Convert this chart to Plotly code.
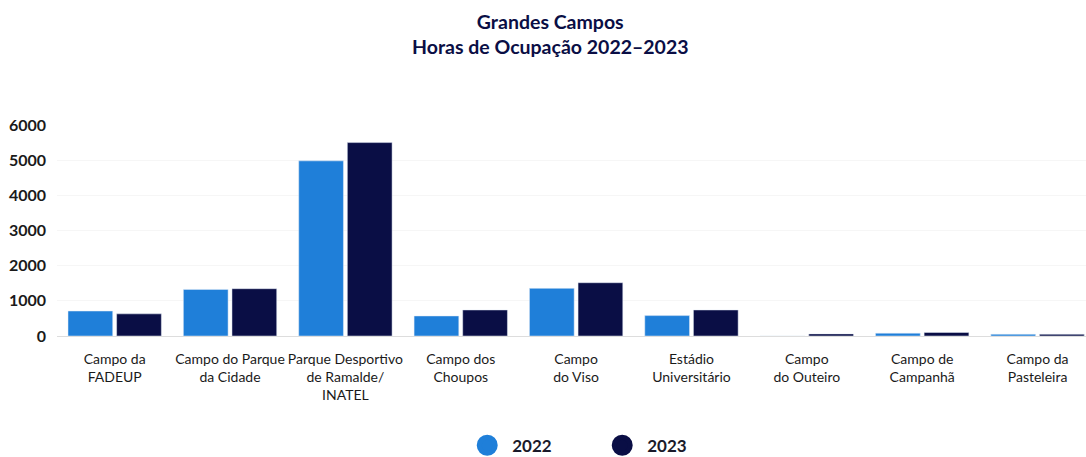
import plotly.graph_objects as go

categories = [
    "Campo da<br>FADEUP",
    "Campo do Parque<br>da Cidade",
    "Parque Desportivo<br>de Ramalde/<br>INATEL",
    "Campo dos<br>Choupos",
    "Campo<br>do Viso",
    "Estádio<br>Universitário",
    "Campo<br>do Outeiro",
    "Campo de<br>Campanhã",
    "Campo da<br>Pasteleira",
]
hours_2022 = [710, 1325, 4980, 570, 1355, 580, 0, 80, 50]
hours_2023 = [630, 1345, 5500, 740, 1515, 740, 60, 100, 50]
y_ticks = [0, 1000, 2000, 3000, 4000, 5000, 6000]

color_2022 = "#1f7fd9"
color_2023 = "#0a0e45"
font_family = "Lato, 'Open Sans', sans-serif"

fig = go.Figure()
fig.add_trace(go.Bar(x=categories, y=hours_2022, name="2022", marker_color=color_2022,
                     showlegend=False))
fig.add_trace(go.Bar(x=categories, y=hours_2023, name="2023", marker_color=color_2023,
                     showlegend=False))
# legend entries with circle markers
fig.add_trace(go.Scatter(x=[None], y=[None], mode="markers", name="2022",
                         marker=dict(symbol="circle", size=26, color=color_2022,
                                     line=dict(width=5, color=color_2022))))
fig.add_trace(go.Scatter(x=[None], y=[None], mode="markers", name="2023",
                         marker=dict(symbol="circle", size=26, color=color_2023,
                                     line=dict(width=5, color=color_2023))))

fig.add_annotation(
    text="<b>Grandes Campos<br>Horas de Ocupação 2022–2023</b>",
    xref="paper", yref="paper", x=0.48, y=1.43, xanchor="center", yanchor="middle",
    showarrow=False, align="center",
    font=dict(family=font_family, size=19.5, color=color_2023),
)

fig.update_layout(
    width=1086, height=457,
    paper_bgcolor="white", plot_bgcolor="white",
    margin=dict(l=57, r=0, t=125, b=121, autoexpand=False),
    barmode="group", bargap=0.157, bargroupgap=0.08,
    font=dict(family=font_family, color="#1a1a1a"),
    legend=dict(
        orientation="h", x=0.525, xanchor="center", y=-0.52, yanchor="middle",
        font=dict(family=font_family, size=17, color="#1a1a2a", weight="bold"),
        itemsizing="trace", itemwidth=40, traceorder="normal",
        entrywidth=80, entrywidthmode="pixels",
    ),
    xaxis=dict(
        range=[-0.5, 8.42], showgrid=False, showline=True, linecolor="#dddddd",
        linewidth=1, ticks="outside", ticklen=10, tickcolor="rgba(0,0,0,0)",
        tickfont=dict(size=14, color="#1a1a1a"),
        tickangle=0, automargin=False,
    ),
    yaxis=dict(
        range=[0, 6000], tickvals=y_ticks, showgrid=True, gridcolor="#f6f6f6",
        zeroline=False, tickfont=dict(size=16, color="#1a1a1a", weight="bold"),
        ticklabelstandoff=10, automargin=False,
    ),
)

fig.write_html("out.html", config={"displayModeBar": False},
               post_script="document.body.style.margin='0';")
